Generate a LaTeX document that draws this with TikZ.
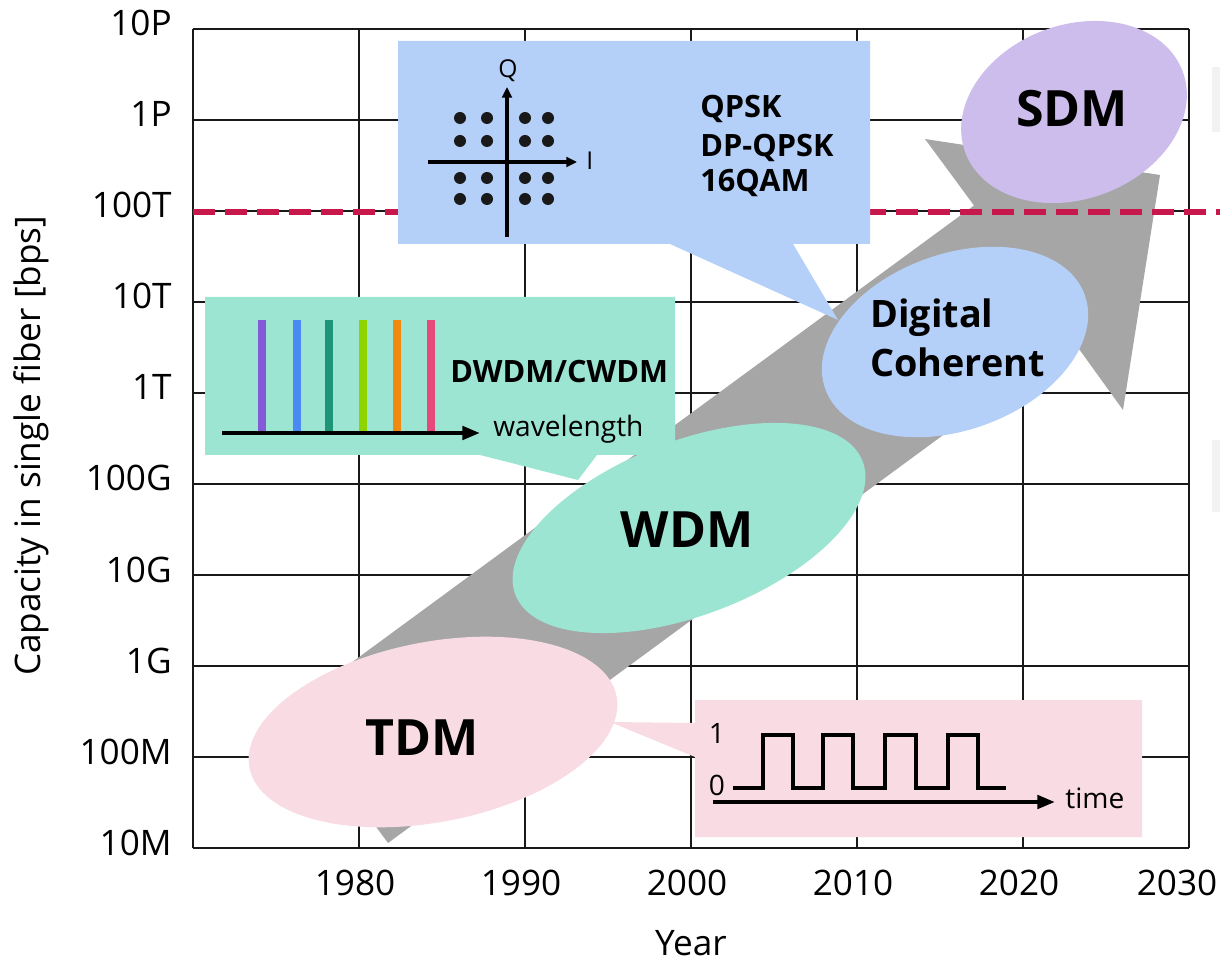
\documentclass[tikz,border=0pt]{standalone}
\usepackage{fontspec}
\setmainfont{Open Sans}
\usetikzlibrary{arrows.meta}

\definecolor{tdmpink}{RGB}{249,219,228}
\definecolor{wdmgreen}{RGB}{157,229,211}
\definecolor{dcblue}{RGB}{181,208,248}
\definecolor{sdmpurple}{RGB}{205,189,236}
\definecolor{trendgray}{RGB}{166,166,166}
\definecolor{limitred}{RGB}{200,23,74}
\definecolor{chA}{RGB}{133,90,214}
\definecolor{chB}{RGB}{74,138,244}
\definecolor{chC}{RGB}{31,149,119}
\definecolor{chD}{RGB}{143,212,0}
\definecolor{chE}{RGB}{240,137,15}
\definecolor{chF}{RGB}{229,74,122}

\begin{document}
\begin{tikzpicture}[x = 0.02cm, y = -0.02cm,
    gridline/.style = {line width = 1.4pt, black!90},
    tick/.style = {font = \fontsize{20}{24}\selectfont, inner sep = 0pt},
    era/.style = {font = \fontsize{28.5}{34}\selectfont\bfseries, inner sep = 0pt, anchor = base},
    tech/.style = {font = \fontsize{21.5}{26}\selectfont\bfseries, inner sep = 0pt, anchor = base west},
    fmt/.style = {font = \fontsize{17.5}{21}\selectfont\bfseries, inner sep = 0pt, anchor = base west},
    note/.style = {font = \fontsize{16}{19}\selectfont, inner sep = 0pt},
    iq/.style = {font = \fontsize{14}{17}\selectfont, inner sep = 0pt},
    axisarrow/.style = {line width = 2.3pt, -{Triangle[length = 10pt, width = 7.5pt]}},
    iqarrow/.style = {line width = 1.9pt, -{Triangle[length = 6pt, width = 5.5pt]}}]

    \useasboundingbox (0, 0) rectangle (1220, 962);

    % grid and axis labels
    \foreach \x in {193, 359, 525, 691, 857, 1023, 1189}
        \draw [gridline] (\x, 29) -- (\x, 848);
    \foreach \y/\cap in {29/10P, 120/1P, 211/100T, 302/10T, 393/1T, 484/100G, 575/10G, 666/1G, 757/100M, 848/10M}
    {
        \draw [gridline] (193, \y) -- (1189, \y);
        \node [tick, anchor = base east] (cap\cap) at (172, \y + 7) {\cap};
    }
    \foreach \x/\yr in {355/1980, 521/1990, 687/2000, 853/2010, 1019/2020, 1177/2030}
        \node [tick, anchor = base] (yr\yr) at (\x, 895) {\yr};
    \node [tick, anchor = base] (xtitle) at (691, 955) {Year};
    \node [tick, anchor = base, rotate = 90] (ytitle) at (40, 446) {Capacity in single fiber [bps]};

    \fill [black!5] (1212, 67) rectangle (1220, 132);
    \fill [black!5] (1212, 440) rectangle (1220, 512);

    % big trend arrow
    \coordinate (tailA) at (289, 708.5);
    \coordinate (tailB) at (388, 843);
    \coordinate (neckA) at (974, 205.5);
    \coordinate (neckB) at (1072.5, 340);
    \coordinate (barbA) at (925, 139);
    \coordinate (barbB) at (1123, 410);
    \coordinate (head) at (1160, 175);
    \fill [trendgray] (tailA) -- (neckA) -- (barbA) -- (head) -- (barbB) -- (neckB) -- (tailB) -- cycle;

    % 100T line
    \coordinate (limA) at (193, 212);
    \coordinate (limB) at (1220, 212);
    \draw [limitred, line width = 3.7pt, dash pattern = on 12.5pt off 5.7pt] (limA) -- (limB);

    % callouts
    \fill [dcblue] (398, 41) -- (870, 41) -- (870, 244) -- (793, 244) -- (838, 320) -- (670, 244) -- (398, 244) -- cycle;
    \fill [wdmgreen] (205, 297) -- (675, 297) -- (675, 455) -- (597, 455) -- (578, 480) -- (480, 455) -- (205, 455) -- cycle;
    \fill [tdmpink] (695, 700) -- (1142, 700) -- (1142, 837) -- (695, 837) -- (695, 757) -- (610, 722) -- (695, 723) -- cycle;

    % ellipses
    \fill [tdmpink, rotate around = {11:(433, 732)}] (433, 732) ellipse [x radius = 187, y radius = 90];
    \fill [wdmgreen, rotate around = {21:(689, 528)}] (689, 528) ellipse [x radius = 186, y radius = 87];
    \fill [dcblue, rotate around = {20:(955, 342)}] (955, 342) ellipse [x radius = 138, y radius = 88];
    \fill [sdmpurple, rotate around = {20.5:(1074, 112)}] (1074, 112) ellipse [x radius = 116, y radius = 87];

    \node [era] (tdm) at (422, 755) {TDM};
    \node [era] (wdm) at (687, 547) {WDM};
    \node [era] (sdm) at (1072, 127) {SDM};
    \node [tech] (dig) at (870, 328) {Digital};
    \node [tech] (coh) at (870, 377) {Coherent};

    % constellation
    \coordinate (iL) at (428, 162);
    \coordinate (iR) at (577, 162);
    \coordinate (qB) at (507, 237);
    \coordinate (qT) at (507, 87);
    \draw [iqarrow] (iL) -- (iR);
    \draw [iqarrow] (qB) -- (qT);
    \foreach \x in {460, 487, 525, 548}
        \foreach \y in {118, 141, 178, 199}
            \fill [black!90] (\x, \y) circle (6);
    \node [iq, anchor = base] (qlab) at (508, 78) {Q};
    \node [iq, anchor = base west] (ilab) at (586, 170) {I};
    \node [fmt] (qpsk) at (700, 118) {QPSK};
    \node [fmt] (dpqpsk) at (700, 157) {DP-QPSK};
    \node [fmt] (qam) at (700, 192) {16QAM};

    % spectrum
    \foreach \x/\c in {262/chA, 297/chB, 329/chC, 363/chD, 397/chE, 431/chF}
        \draw [\c, line width = 4pt] (\x, 320) -- (\x, 433);
    \coordinate (wlA) at (222, 433);
    \coordinate (wlB) at (480, 433);
    \draw [axisarrow] (wlA) -- (wlB);
    \node [note, anchor = base west] (wl) at (493, 437) {wavelength};
    \node [fmt] (dwdm) at (450, 383) {DWDM/CWDM};

    % pulse train
    \draw [line width = 2.3pt] (733, 788) -- (763, 788) -- (763, 735) -- (793, 735) -- (793, 788)
        -- (823, 788) -- (823, 735) -- (853, 735) -- (853, 788) -- (885, 788) -- (885, 735)
        -- (916, 735) -- (916, 788) -- (948, 788) -- (948, 735) -- (978, 735) -- (978, 788) -- (1006, 788);
    \coordinate (tA) at (713, 802);
    \coordinate (tB) at (1055, 802);
    \draw [axisarrow] (tA) -- (tB);
    \node [note, anchor = base] (one) at (717, 743) {1};
    \node [note, anchor = base] (zero) at (717, 795) {0};
    \node [note, anchor = base west] (time) at (1065, 808) {time};
\end{tikzpicture}
\end{document}
